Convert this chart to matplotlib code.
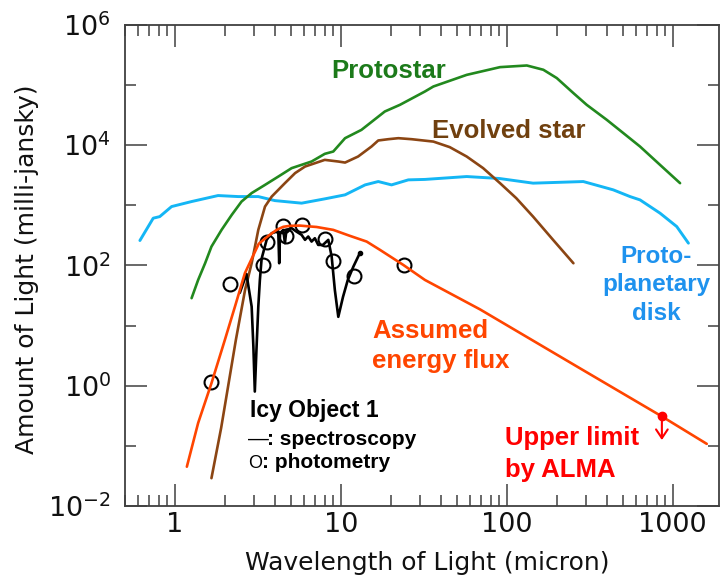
import matplotlib
matplotlib.use("Agg")
import matplotlib.pyplot as plt
from matplotlib.ticker import FixedLocator, LogLocator, NullFormatter, FixedFormatter

# ---------------- data ----------------
disk_wl = [0.615, 0.74, 0.81, 0.955, 1.26, 1.82, 2.41, 3.18, 4.0, 5.8, 8.0, 10.6, 14.0,
           16.8, 20.2, 25.5, 32.1, 57.3, 90, 144, 289, 438, 553, 635, 838, 1057, 1243]
disk_flux = [260, 612, 650, 955, 1157, 1456, 1400, 1400, 1200, 1088, 1283, 1496, 2190,
             2490, 2190, 2655, 2700, 3015, 2800, 2340, 2490, 1811, 1400, 1233, 742, 444, 235]

proto_wl = [1.26, 1.38, 1.52, 1.66, 1.91, 2.2, 2.52, 2.9, 3.49, 4.2, 5.05, 6.66, 8.0, 9.0,
            10.6, 13.3, 18.4, 22.7, 32.1, 36.1, 57.3, 91, 132, 166, 200, 252, 303, 400,
            504, 635, 838, 1107]
proto_flux = [28.6, 57.5, 109, 206, 391, 695, 1157, 1600, 2190, 3015, 4160, 5360, 7190, 7860,
              13100, 18000, 36400, 47000, 78300, 94800, 148000, 199000, 212000, 180000,
              131000, 73600, 47000, 26500, 15900, 9520, 4720, 2340]

evolved_wl = [1.66, 1.9, 2.33, 2.65, 2.9, 3.18, 3.49, 3.83, 4.6, 5.3, 6.08, 8.0, 9.65, 10.6,
              12.7, 15.3, 16.8, 19.3, 22.2, 26.7, 36.1, 45.3, 57.3, 72, 91, 114, 144, 190, 252]
evolved_flux = [0.029, 0.2, 5.8, 40, 109, 391, 955, 1400, 2340, 3440, 4420, 5710, 5360, 5150,
                6490, 9520, 12000, 12600, 13100, 12600, 11500, 9300, 6490, 4160, 2340, 1318,
                650, 267, 109]

model_wl = [1.18, 1.38, 1.66, 2.0, 2.3, 2.64, 3.2, 3.65, 4.1, 4.5, 4.9, 5.66, 6.5, 7.14, 9.0,
            11.3, 14.3, 17.2, 23.8, 32.1, 69, 276, 858, 1603]
model_flux = [0.045, 0.24, 1.1, 5.8, 20.7, 74.5, 230, 310, 391, 440, 456, 461, 446, 437, 391,
              312, 250, 182, 102, 57.5, 18.6, 1.95, 0.31, 0.108]

spec_wl = [2.46, 2.7, 2.9, 2.97, 3.03, 3.1, 3.18, 3.25, 3.33, 3.57, 3.83, 4.1, 4.2, 4.25,
           4.3, 4.5, 4.6, 4.7, 5.05, 5.4, 5.8, 6.08, 6.36, 6.66, 6.97, 7.3, 7.8, 8.4, 8.8,
           9.2, 9.65, 10.3, 11.0, 11.9, 13.0]
spec_flux = [35, 72, 20.7, 4.5, 0.8, 4.0, 20.7, 57, 130, 267, 344, 366, 340, 109,
             344, 391, 235, 391, 417, 366, 323, 267, 303, 250, 284, 220, 220, 267, 141,
             39, 14, 30, 57, 96, 160]

phot_wl = [1.66, 2.16, 3.4, 3.6, 4.5, 4.65, 5.8, 8.0, 9.0, 12.0, 24.0]
phot_flux = [1.15, 49, 100, 245, 450, 310, 480, 280, 121, 67, 102]

alma_wl = 860
alma_limit = 0.31
alma_arrow_end = 0.125

x_major = [1, 10, 100, 1000]
x_major_labels = ["1", "10", "100", "1000"]
y_major = [1e-2, 1e0, 1e2, 1e4, 1e6]
y_major_labels = [r"$\mathregular{10^{-2}}$", r"$\mathregular{10^{0}}$", r"$\mathregular{10^{2}}$",
                  r"$\mathregular{10^{4}}$", r"$\mathregular{10^{6}}$"]
y_minor = [1e-1, 1e1, 1e3, 1e5]

# ---------------- style ----------------
plt.rcParams["font.family"] = ["DejaVu Sans"]
plt.rcParams["mathtext.default"] = "regular"
BOLD = ["Liberation Sans", "DejaVu Sans"]

c_green, c_green_t = "#22891E", "#1C7A1A"
c_brown, c_brown_t = "#8B4513", "#70400F"
c_blue, c_blue_t = "#14B6F5", "#1E92EE"
c_orange = "#FF4500"
c_red = "#FF0000"
c_axis = "#404040"

fig = plt.figure(figsize=(7.27, 5.81), dpi=100)
ax = fig.add_axes([0.1719, 0.1291, 0.8171, 0.8279])
ax.set_xscale("log")
ax.set_yscale("log")
ax.set_xlim(0.5, 1900)
ax.set_ylim(1e-2, 1e6)

line_kw = dict(solid_joinstyle="round", solid_capstyle="round")
ax.plot(disk_wl, disk_flux, color=c_blue, lw=2.1, zorder=2, **line_kw)
ax.plot(proto_wl, proto_flux, color=c_green, lw=1.9, zorder=2, **line_kw)
ax.plot(evolved_wl, evolved_flux, color=c_brown, lw=1.9, zorder=2, **line_kw)
ax.plot(spec_wl, spec_flux, color="black", lw=1.9, zorder=3, **line_kw)
ax.plot(spec_wl[-1:], spec_flux[-1:], "o", color="black", ms=3, zorder=3)
ax.plot(phot_wl, phot_flux, "o", mfc="none", mec="black", mew=1.5, ms=10, ls="none", zorder=4)
ax.plot(model_wl, model_flux, color=c_orange, lw=1.9, zorder=5, **line_kw)

ax.plot([alma_wl], [alma_limit], "o", color=c_red, ms=6, zorder=6)
ax.annotate("", xy=(alma_wl, alma_arrow_end), xytext=(alma_wl, alma_limit),
            arrowprops=dict(arrowstyle="->,head_length=0.45,head_width=0.3", color=c_red,
                            lw=1.5, mutation_scale=14, shrinkA=0, shrinkB=0), zorder=6)

# ---------------- axes ----------------
ax.xaxis.set_major_locator(FixedLocator(x_major))
ax.xaxis.set_major_formatter(FixedFormatter(x_major_labels))
ax.xaxis.set_minor_locator(LogLocator(base=10, subs=range(2, 10), numticks=20))
ax.xaxis.set_minor_formatter(NullFormatter())
ax.yaxis.set_major_locator(FixedLocator(y_major))
ax.yaxis.set_major_formatter(FixedFormatter(y_major_labels))
ax.yaxis.set_minor_locator(FixedLocator(y_minor))
ax.yaxis.set_minor_formatter(NullFormatter())

for s in ax.spines.values():
    s.set_color(c_axis)
    s.set_linewidth(1.3)
ax.tick_params(which="both", direction="in", top=True, right=True, color=c_axis, width=1.1,
               labelsize=19.5, labelcolor="#111111")
ax.tick_params(which="major", length=16)
ax.tick_params(which="minor", length=8)
ax.tick_params(axis="x", which="major", pad=4)
ax.tick_params(axis="y", which="major", pad=10)

fig.text(427 / 727, 1 - 563 / 581, "Wavelength of Light (micron)", ha="center", va="center",
         fontsize=18, color="#111111")
fig.text(27 / 727, 1 - 269 / 581, "Amount of Light (milli-jansky)", ha="center", va="center",
         rotation=90, fontsize=18, color="#111111")

# ---------------- annotations ----------------
def lab(fx, fy, s, color, size=18.5, ha="left", weight="bold", fam=BOLD):
    ax.text(fx, fy, s, transform=ax.transAxes, ha=ha, va="baseline", color=color,
            fontsize=size, fontweight=weight, family=fam)

lab(0.348, 0.890, "Protostar", c_green_t)
lab(0.5163, 0.7644, "Evolved star", c_brown_t)
lab(0.894, 0.5058, "Proto-", c_blue_t, size=17.5, ha="center")
lab(0.894, 0.4476, "planetary", c_blue_t, size=17.5, ha="center")
lab(0.894, 0.3867, "disk", c_blue_t, size=17.5, ha="center")
lab(0.4158, 0.3486, "Assumed", c_orange)
lab(0.4158, 0.2869, "energy flux", c_orange)
lab(0.6397, 0.1268, "Upper limit", c_red)
lab(0.6397, 0.0609, "by ALMA", c_red)
lab(0.2104, 0.1857, "Icy Object 1", "black", size=16.5)
lab(0.2071, 0.1268, "\u2014", "black", size=15, weight="normal")
lab(0.2390, 0.1268, ": spectroscopy", "black", size=15)
lab(0.2075, 0.0790, "O", "black", size=13, weight="normal")
lab(0.2300, 0.0790, ": photometry", "black", size=15)

fig.savefig("out.png", dpi=100)
